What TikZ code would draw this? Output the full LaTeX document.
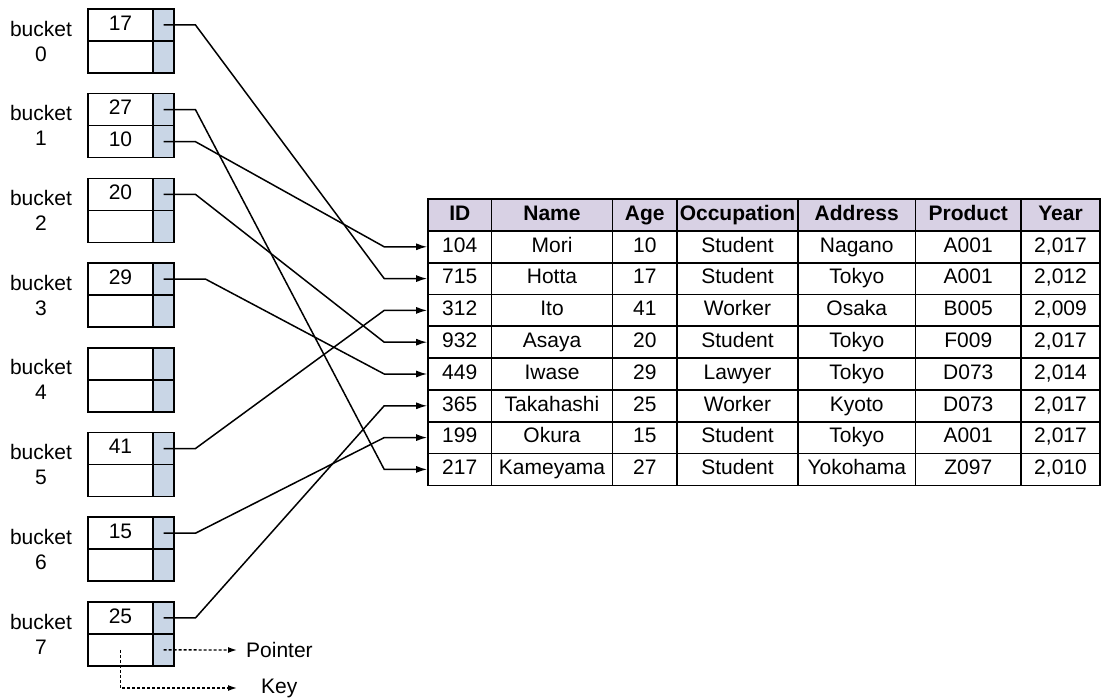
\documentclass[tikz,border=0pt]{standalone}
\usepackage{fontspec}
\setmainfont{Liberation Sans}
\usepackage{xcolor}
\usetikzlibrary{positioning, arrows.meta}
\definecolor{ptrblue}{RGB}{201,214,230}
\definecolor{headlilac}{RGB}{216,209,228}
\tikzset{
    every node/.style={font=\fontsize{21}{25}\selectfont}, % same text size everywhere
    cell/.style={draw, line width=1.6pt, inner sep=0pt, minimum height=32pt,
        text height=15pt, text depth=4.5pt}, % one box of a bucket or of the table
    keycell/.style={cell, minimum width=65pt},
    ptrcell/.style={cell, fill=ptrblue, minimum width=21pt},
    headcell/.style={cell, fill=headlilac, font=\fontsize{21}{25}\selectfont\bfseries},
    link/.style={line width=1.5pt, -{Latex[length=11pt, width=7pt]}},
    legend/.style={line width=1.4pt, dash pattern=on 3pt off 2pt, -{Latex[length=9pt, width=6pt]}},
}

\begin{document}
\begin{tikzpicture}
                [x=1pt, y=-1pt]
                \useasboundingbox (0,0) rectangle (1102,700);

                % Buckets
                \foreach \k/\ka/\kb in {0/17/, 1/27/10, 2/20/, 3/29/, 4//, 5/41/, 6/15/, 7/25/} {
                    \pgfmathsetmacro\ky{25+84.7*\k}
                    \node[keycell] (k\k a) at (120.5,\ky) {\ka};
                    \node[keycell] (k\k b) at (120.5,\ky+32) {\kb};
                    \node[ptrcell] (p\k a) at (163.5,\ky) {};
                    \node[ptrcell] (p\k b) at (163.5,\ky+32) {};
                    \node[align=center] (lbl\k) at (41,\ky+16) {bucket\\\k};
                }

                % Table
                \foreach \j/\cx/\w/\h in {1/459.75/63.5/ID, 2/552/121/Name, 3/644.75/64.5/Age,
                        4/737.5/121/Occupation, 5/856.75/117.5/Address, 6/968.25/105.5/Product, 7/1060.5/79/Year}
                    \node[headcell, minimum width=\w pt] (t0-\j) at (\cx,215) {\h};
                \foreach \i/\a/\b/\c/\d/\e/\f/\g in {
                        1/104/Mori/10/Student/Nagano/A001/{2,017},
                        2/715/Hotta/17/Student/Tokyo/A001/{2,012},
                        3/312/Ito/41/Worker/Osaka/B005/{2,009},
                        4/932/Asaya/20/Student/Tokyo/F009/{2,017},
                        5/449/Iwase/29/Lawyer/Tokyo/D073/{2,014},
                        6/365/Takahashi/25/Worker/Kyoto/D073/{2,017},
                        7/199/Okura/15/Student/Tokyo/A001/{2,017},
                        8/217/Kameyama/27/Student/Yokohama/Z097/{2,010}} {
                    \pgfmathsetmacro\ry{215+31.8*\i}
                    \node[cell, minimum width=63.5pt] (t\i-1) at (459.75,\ry) {\a};
                    \node[cell, minimum width=121pt] (t\i-2) at (552,\ry) {\b};
                    \node[cell, minimum width=64.5pt] (t\i-3) at (644.75,\ry) {\c};
                    \node[cell, minimum width=121pt] (t\i-4) at (737.5,\ry) {\d};
                    \node[cell, minimum width=117.5pt] (t\i-5) at (856.75,\ry) {\e};
                    \node[cell, minimum width=105.5pt] (t\i-6) at (968.25,\ry) {\f};
                    \node[cell, minimum width=79pt] (t\i-7) at (1060.5,\ry) {\g};
                }

                % Pointers
                \foreach \s/\t/\d in {p0a/2/32, p1a/8/32, p1b/1/32, p2a/4/32, p3a/5/42, p5a/3/32, p6a/7/32, p7a/6/32}
                    \draw[link] (\s.center) -- ++(\d,0) -- ([xshift=-43pt]t\t-1.west) -- (t\t-1.west);

                % Legend
                \coordinate (ptrend) at (237,650);
                \coordinate (keyend) at (237,688);
                \node[inner sep=0pt, right=9pt of ptrend] (ptrtxt) {Pointer};
                \node[inner sep=0pt, right=24pt of keyend] (keytxt) {Key};
                \draw[legend] (p7b.center) -- (ptrend);
                \draw[legend] (k7b.center) |- (keyend);

            \end{tikzpicture}
\end{document}
